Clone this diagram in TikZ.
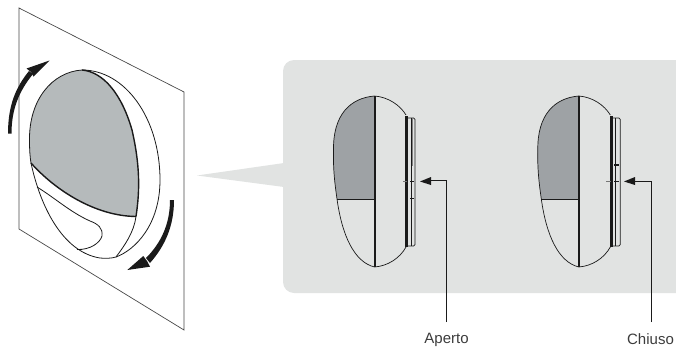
\documentclass[tikz,border=0pt]{standalone}
\usepackage{fontspec}
\setmainfont{Liberation Sans}
\definecolor{panel}{HTML}{E1E3E2}
\definecolor{eggA}{HTML}{B5BABB}
\definecolor{eggB}{HTML}{9EA2A5}
\definecolor{ink}{HTML}{1A1A1A}
\tikzset{
  thin line/.style={draw=ink,line width=.7pt},
  med line/.style={draw=ink,line width=1pt},
  heavy line/.style={draw=ink,line width=1.4pt},
  tick/.style={draw=ink,line width=1.3pt},
  grey tick/.style={draw=ink!60,line width=1.2pt},
  label text/.style={font=\fontsize{15}{17}\selectfont,text=ink!85,inner sep=0pt,anchor=center},
  leader/.style={draw=ink,line width=.75pt},
  leader tip/.style={fill=ink}
}
\newcommand{\sideview}[2]{%
  \begin{scope}[xshift=#1pt]
    \fill[eggB] (374.5,96) .. controls (350,98) and (333,115) .. (333.5,150) .. controls (333,170) and (335,185) .. (337,199) -- (374.5,199) -- cycle;
    \draw[thin line] (374.5,96) .. controls (350,98) and (333,115) .. (333.5,150) .. controls (333,170) and (335,185) .. (337,199) .. controls (342,235) and (354,262) .. (374.5,267);
    \draw[thin line] (374.5,96) .. controls (388,97) and (400,105) .. (406,115);
    \draw[thin line] (374.5,267) .. controls (388,266) and (400,258) .. (406,247);
    \draw[med line] (337,199) -- (374.5,199);
    \draw[draw=ink,line width=1.7pt] (375,96) -- (375,267);
    \draw[draw=ink,line width=3pt] (406.7,116) -- (406.7,247);
    #2
  \end{scope}
}
\begin{document}
\begin{tikzpicture}[x=1pt,y=-1pt]
\useasboundingbox (0,0) rectangle (676,348);
% panel and wedge
\fill[panel,rounded corners=11pt] (283,60) -- (690,60) -- (690,293) -- (283,293) -- cycle;
\fill[panel] (197,175.5) -- (284,163) -- (284,187) -- cycle;
% plane
\draw[thin line,draw=ink!80] (19,8) -- (184,92) -- (184,330) -- (19,229) -- cycle;
% mounted sensor
\fill[white] (82,70) .. controls (130,70) and (160,120) .. (160,185) .. controls (158,225) and (130,258) .. (100,258) .. controls (70,258) and (50,225) .. (31,163) .. controls (25,125) and (35,72) .. (82,70) -- cycle;
\fill[eggA] (82,70) .. controls (52,72) and (29,100) .. (29.5,140) .. controls (29.5,150) and (30,157) .. (31,163) .. controls (55,190) and (95,216) .. (136,216.5) .. controls (140,190) and (140,165) .. (132,130) .. controls (122,95) and (104,72) .. (82,70) -- cycle;
\draw[thin line,line width=.8pt] (82,70) .. controls (125,70) and (160,118) .. (160,180) .. controls (160,225) and (135,250) .. (116,257);
\draw[thin line,line width=.8pt] (82,70) .. controls (52,72) and (29,100) .. (29.5,140) .. controls (29.5,150) and (30,157) .. (31,163) .. controls (40,205) and (62,252) .. (100,258) .. controls (105,258.5) and (111,258.5) .. (116,257) .. controls (125,245) and (134,232) .. (136,216.5);
\draw[heavy line] (82,70) .. controls (104,72) and (122,95) .. (132,130) .. controls (140,165) and (140,190) .. (136,216.5);
\draw[heavy line] (31,163) .. controls (55,190) and (95,216) .. (136,216.5);
\draw[thin line,line width=.8pt] (37,187) .. controls (55,198) and (70,212) .. (90,221) .. controls (98,224) and (103,228) .. (102,236) .. controls (100,243) and (90,250) .. (77,249.5);
% rotation arrows
\fill[ink] (8,133.5) .. controls (8,105) and (16,87) .. (29,71) -- (33,74) .. controls (20,90) and (11.5,108) .. (11.5,133.5) -- cycle;
\fill[ink] (49.5,60.5) -- (26.5,68.5) -- (31,72) -- (33.5,76.5) -- cycle;
\fill[ink] (170,200) .. controls (170,224) and (161,243) .. (146,258) -- (150,263) .. controls (165,246) and (174,226) .. (174,200) -- cycle;
\fill[ink] (127.3,270) -- (150,266.7) -- (147,261) -- (143.3,256) -- cycle;
% side views
\sideview{0}{%
  \draw[thin line,rounded corners=1.5pt] (408,118) -- (415,118) -- (415,246) -- (408,246);
  \draw[draw=ink,line width=.9pt] (411.5,118) -- (411.5,246);
  \draw[draw=ink!55,line width=1pt] (412,118) -- (412,166);
  \draw[tick] (410,181.5) -- (414.3,181.5);
  \draw[tick] (410,198.5) -- (414.3,198.5);
  \draw[grey tick] (403,181.5) -- (407,181.5);
}
\sideview{204.3}{%
  \draw[thin line,rounded corners=1.5pt] (408,118) -- (416,118) -- (416,246) -- (408,246);
  \draw[draw=ink,line width=.9pt] (411.5,118) -- (411.5,246);
  \draw[tick] (410,165) -- (414.3,165);
  \draw[tick] (410,181.5) -- (414.3,181.5);
  \draw[grey tick] (402,181.5) -- (407,181.5);
}
% labels and leaders
\node[label text] (aperto) at (446.5,339.5) {Aperto};
\node[label text] (chiuso) at (650.5,339.5) {Chiuso};
\coordinate (tipA) at (420,181.5);
\coordinate (tipB) at (624,181.5);
\coordinate (startA) at (446.5,322);
\coordinate (startB) at (651,322);
\draw[leader] (startA) -- (446.5,180.5) -- (430,180.5);
\fill[leader tip] (tipA) -- (431,177) -- (431,185) -- cycle;
\draw[leader] (startB) -- (651,181) -- (634,181);
\fill[leader tip] (tipB) -- (635,177) -- (635,185) -- cycle;
\end{tikzpicture}
\end{document}
